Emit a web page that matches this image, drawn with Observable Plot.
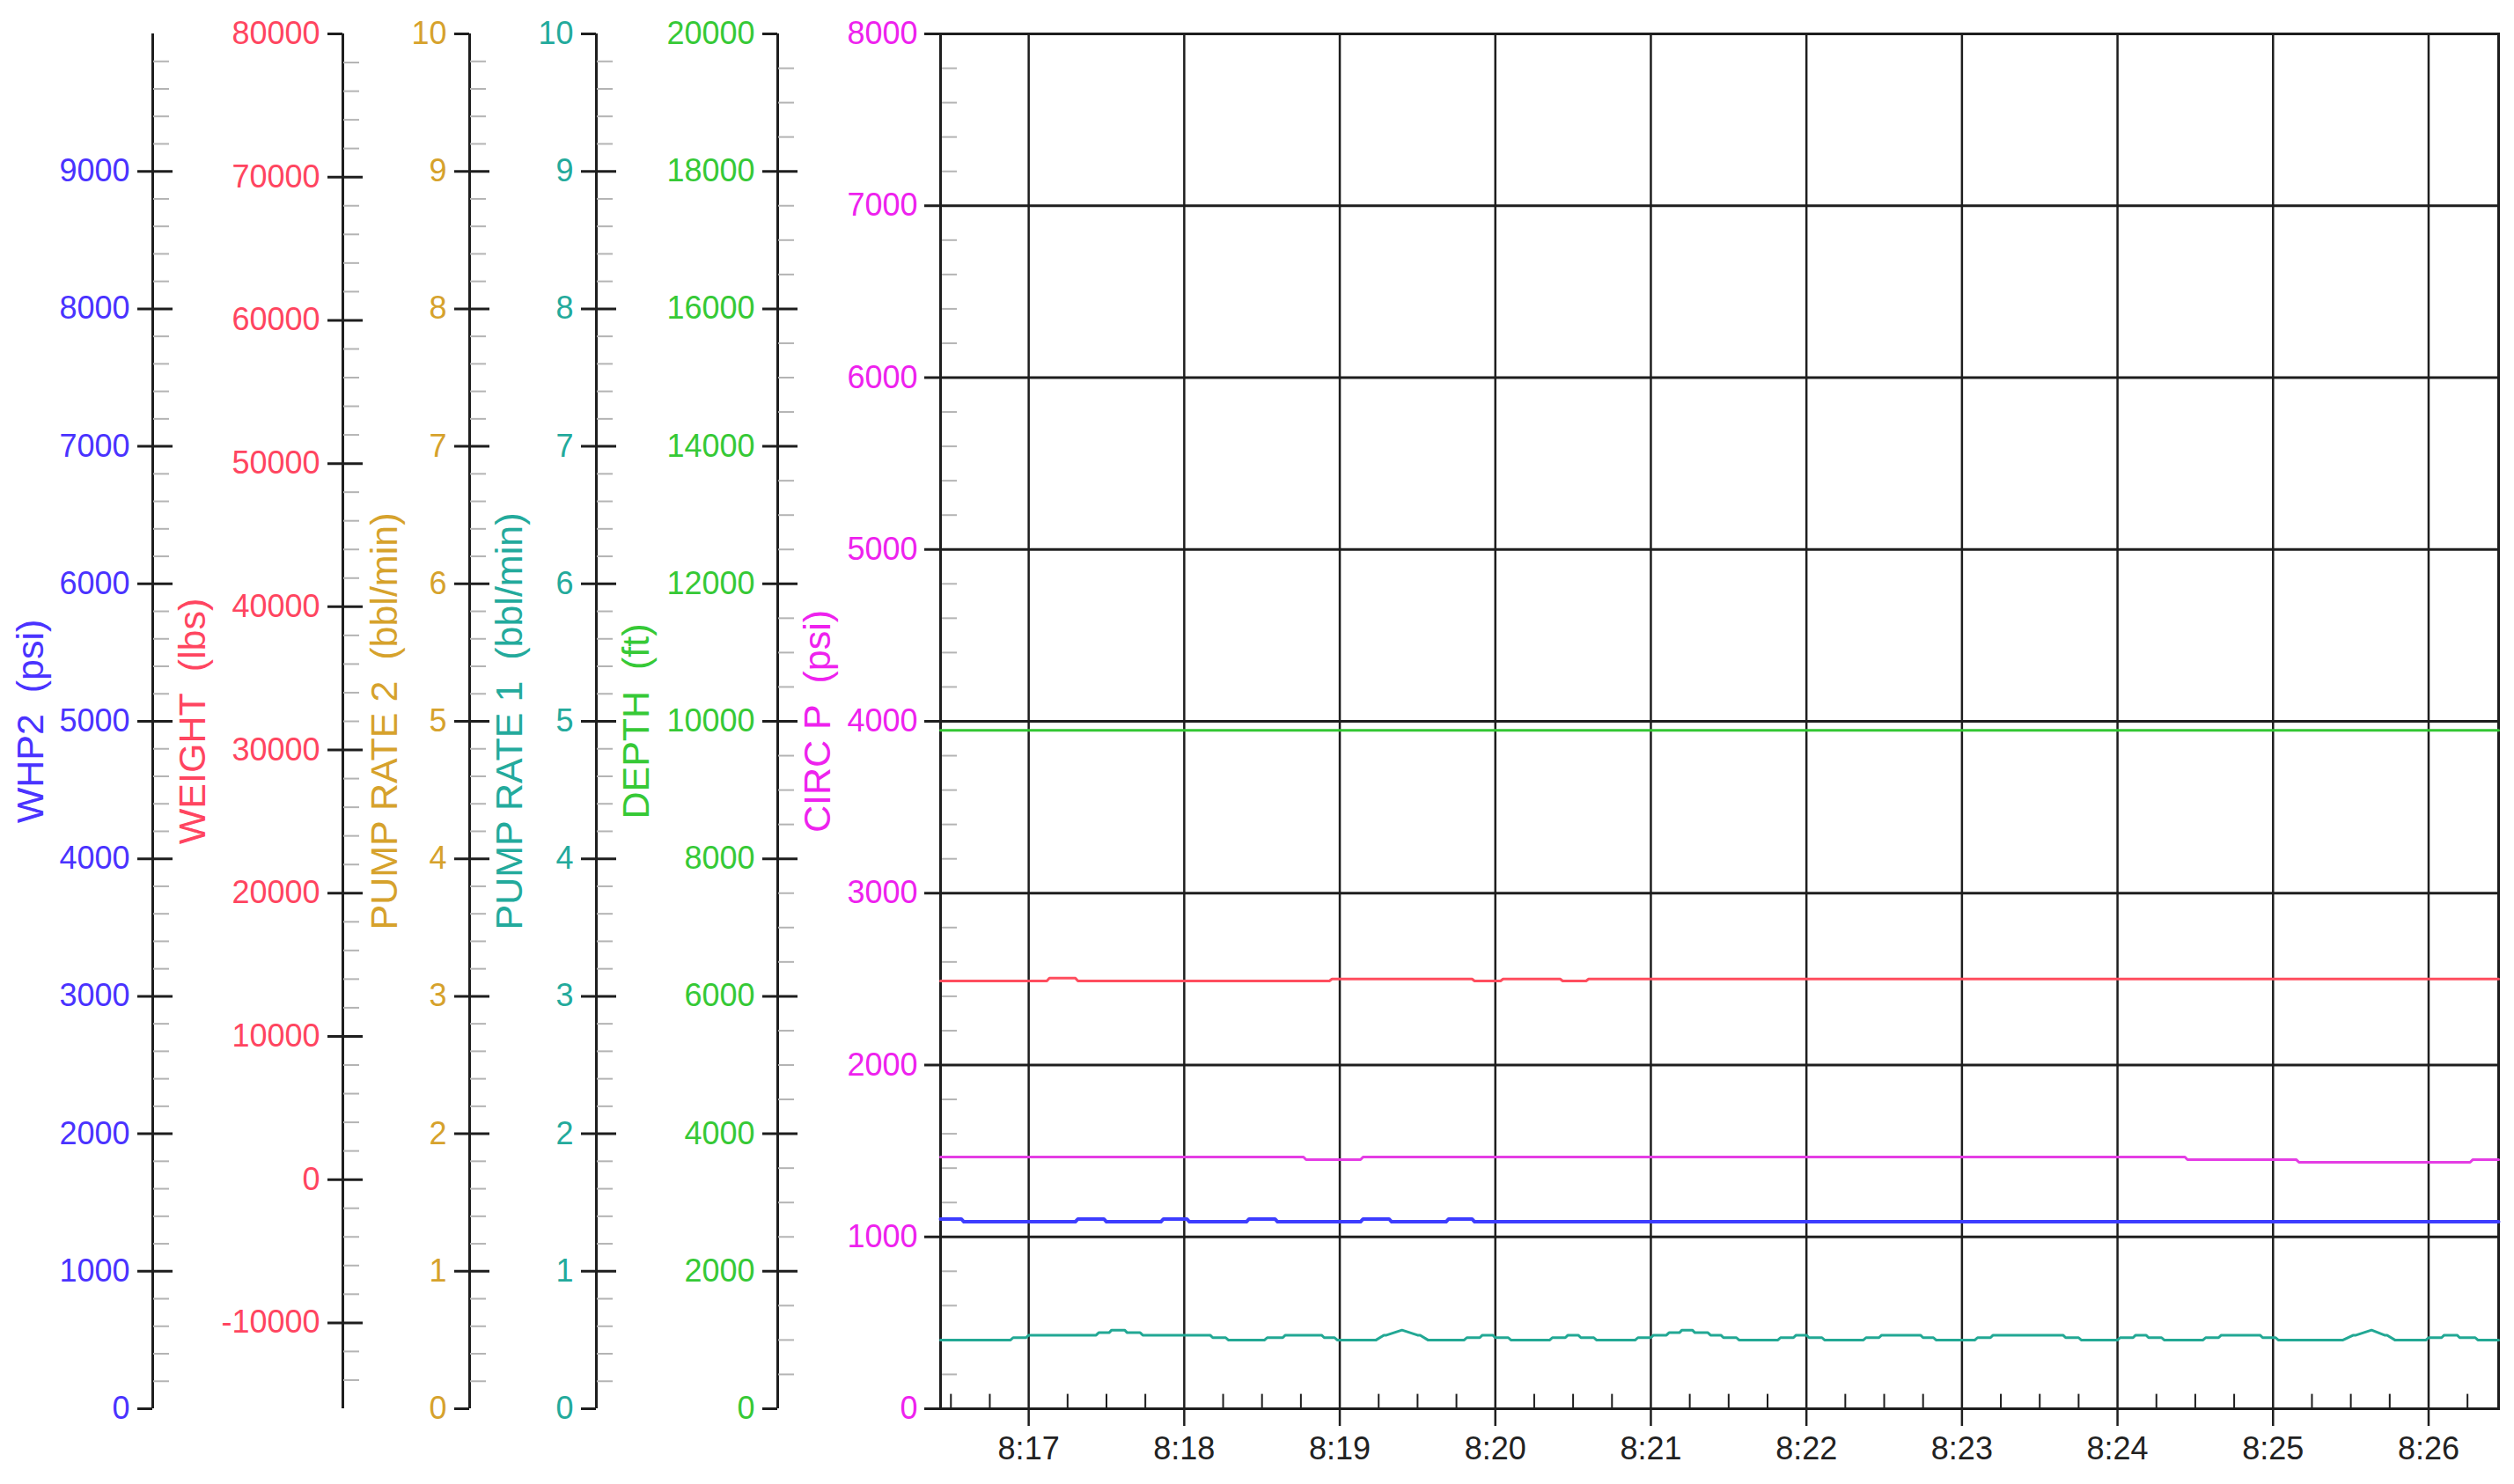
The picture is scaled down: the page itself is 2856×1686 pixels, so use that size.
<!DOCTYPE html>
<html>
<head>
<meta charset="utf-8">
<script src="https://cdn.jsdelivr.net/npm/d3@7"></script>
<script src="https://cdn.jsdelivr.net/npm/@observablehq/plot@0.6"></script>
<style>
  html, body { margin: 0; padding: 0; background: #fff; }
  #chart { position: relative; width: 2856px; height: 1686px; overflow: hidden; background: #fff; }
  #chart svg { position: absolute; left: 0; top: 0; }
</style>
</head>
<body>
<div id="chart"></div>
<script>
// ---------------- DATA ----------------
const startTime = "2021-03-15T08:16:26Z";
const spanSeconds = 601;
const timeTickLabels = ["8:17", "8:18", "8:19", "8:20", "8:21", "8:22", "8:23", "8:24", "8:25", "8:26"];

const whp2Ticks = [0, 1000, 2000, 3000, 4000, 5000, 6000, 7000, 8000, 9000];
const weightTicks = [-10000, 0, 10000, 20000, 30000, 40000, 50000, 60000, 70000, 80000];
const pumpRate2Ticks = [0, 1, 2, 3, 4, 5, 6, 7, 8, 9, 10];
const pumpRate1Ticks = [0, 1, 2, 3, 4, 5, 6, 7, 8, 9, 10];
const depthTicks = [0, 2000, 4000, 6000, 8000, 10000, 12000, 14000, 16000, 18000, 20000];
const circTicks = [0, 1000, 2000, 3000, 4000, 5000, 6000, 7000, 8000];

// series: [startSecond, endSecond, value] plateaus
const depthSeries = [[0, 601, 9870]];
const weightSeries = [
  [0, 41, 13870], [42, 52, 14070], [53, 150, 13870], [151, 205, 14010],
  [206, 216, 13870], [217, 239, 14010], [240, 249, 13870], [250, 601, 14010]
];
const circSeries = [
  [0, 140, 1465], [141, 162, 1449], [163, 480, 1465], [481, 523, 1449],
  [524, 590, 1434], [591, 601, 1449]
];
const whp2Series = [
  [0, 8, 1380], [9, 52, 1360], [53, 63, 1380], [64, 85, 1360], [86, 95, 1380],
  [96, 118, 1360], [119, 129, 1380], [130, 162, 1360], [163, 173, 1380],
  [174, 195, 1360], [196, 205, 1380], [206, 601, 1360]
];
const pumpRate1Series = [
  [0, 27, 0.50], [28, 33, 0.517], [34, 60, 0.535], [61, 65, 0.553], [66, 71, 0.572],
  [72, 77, 0.553], [78, 104, 0.535], [105, 110, 0.517], [111, 125, 0.50], [126, 132, 0.517],
  [133, 147, 0.535], [148, 152, 0.517], [153, 168, 0.50], [171, 172, 0.535], [178, 178, 0.572],
  [184, 185, 0.535], [188, 202, 0.50], [203, 208, 0.517], [209, 213, 0.535], [214, 219, 0.517],
  [220, 235, 0.50], [236, 241, 0.517], [242, 246, 0.535], [247, 252, 0.517], [253, 268, 0.50],
  [269, 274, 0.517], [275, 280, 0.535], [281, 285, 0.553], [286, 290, 0.572], [291, 296, 0.553],
  [297, 301, 0.535], [302, 307, 0.517], [308, 323, 0.50], [324, 329, 0.517], [330, 334, 0.535],
  [335, 340, 0.517], [341, 356, 0.50], [357, 362, 0.517], [363, 378, 0.535], [379, 383, 0.517],
  [384, 399, 0.50], [400, 405, 0.517], [406, 433, 0.535], [434, 439, 0.517], [440, 454, 0.50],
  [455, 460, 0.517], [461, 465, 0.535], [466, 471, 0.517], [472, 487, 0.50], [488, 493, 0.517],
  [494, 509, 0.535], [510, 515, 0.517], [516, 541, 0.50], [545, 546, 0.535], [552, 552, 0.572],
  [557, 558, 0.535], [561, 573, 0.50], [574, 579, 0.517], [580, 585, 0.535], [586, 592, 0.517],
  [593, 601, 0.50]
];

// ---------------- LAYOUT / STYLE ----------------
const W = 2856, H = 1686;
const TOP = 38, BOTTOM = 86;
const PLOT_LEFT = 1068, PLOT_RIGHT = 2838;
const FONT = "'Liberation Sans', Arial, Helvetica, sans-serif";
const TICK_FONT = 36, TITLE_FONT = 43;
const AXIS = "#1e1e1e", MINOR = "#b4b4b4";
const C = {
  whp2: "#4a33ff", weight: "#ff4560", pr2: "#d6a22c", pr1: "#23aa9c", depth: "#36c936", circ: "#ee22ee"
};
const LINE = {
  whp2: "#3d3dff", weight: "#ff4d5e", pr1: "#22a894", depth: "#33c633", circ: "#e43de4"
};

const t0 = new Date(startTime);
const toDate = s => new Date(t0.getTime() + s * 1000);
const xDomain = [t0, toDate(spanSeconds)];
const day = startTime.slice(0, 10);
const minuteDates = timeTickLabels.map(l => {
  const [h, m] = l.split(":").map(Number);
  return new Date(`${day}T${String(h).padStart(2, "0")}:${String(m).padStart(2, "0")}:00Z`);
});
const quarterDates = d3.utcSecond.every(15).range(xDomain[0], xDomain[1])
  .filter(d => d.getUTCSeconds() !== 0);
const fmt = d => String(d);

function vertices(series) {
  const pts = [];
  for (const [s, e, v] of series) {
    pts.push({t: toDate(s), v});
    if (e !== s) pts.push({t: toDate(e), v});
  }
  return pts;
}

function minorValues(domain, step, majors) {
  const [lo, hi] = domain;
  const n = Math.round((hi - lo) / step);
  const out = [];
  for (let i = 1; i < n; i++) {
    const v = +(lo + i * step).toFixed(6);
    if (!majors.some(m => Math.abs(m - v) < step / 10)) out.push(v);
  }
  return out;
}

const chart = document.getElementById("chart");
function add(svg) { chart.appendChild(svg); }

function titleMark(title, dx, color) {
  return Plot.text([title], {frameAnchor: "left", dx, rotate: -90, textAnchor: "middle",
    lineAnchor: "middle", fill: color, fontSize: TITLE_FONT, text: d => d});
}

function sideAxis({x, domain, ticks, minorStep, color, title, titleDx}) {
  const [lo, hi] = domain;
  const caps = ticks.filter(t => t === lo || t === hi);
  const cross = ticks.filter(t => t !== lo && t !== hi);
  const minors = minorValues(domain, minorStep, ticks);
  return Plot.plot({
    width: W, height: H,
    marginTop: TOP, marginBottom: BOTTOM, marginLeft: x, marginRight: 0,
    x: {domain: [0, 1], axis: null},
    y: {domain, axis: null},
    style: {background: "transparent", fontFamily: FONT, fontSize: `${TICK_FONT}px`, overflow: "visible"},
    marks: [
      Plot.ruleX([0], {stroke: AXIS, strokeWidth: 3}),
      Plot.axisY(minors, {tickSize: 18, dx: 19, stroke: MINOR, strokeWidth: 2, tickFormat: () => "", label: null}),
      Plot.axisY(cross, {tickSize: 40, dx: 23, tickPadding: 9, stroke: AXIS, strokeWidth: 3,
        fill: color, fontSize: TICK_FONT, tickFormat: fmt, label: null}),
      Plot.axisY(caps, {tickSize: 17, tickPadding: 9, stroke: AXIS, strokeWidth: 3,
        fill: color, fontSize: TICK_FONT, tickFormat: fmt, label: null}),
      titleMark(title, titleDx, color)
    ]
  });
}

function lineLayer(series, domain, color, width) {
  return Plot.plot({
    width: W, height: H,
    marginTop: TOP, marginBottom: BOTTOM, marginLeft: PLOT_LEFT, marginRight: W - PLOT_RIGHT,
    x: {type: "utc", domain: xDomain, axis: null},
    y: {domain, axis: null},
    style: {background: "transparent", overflow: "visible"},
    marks: [Plot.line(vertices(series), {x: "t", y: "v", stroke: color, strokeWidth: width})]
  });
}

// ---------------- MAIN PLOT (CIRC P scale, time axis, grid) ----------------
const circDomain = [0, 8000];
const circMinors = minorValues(circDomain, 200, circTicks);
add(Plot.plot({
  width: W, height: H,
  marginTop: TOP, marginBottom: BOTTOM, marginLeft: PLOT_LEFT, marginRight: W - PLOT_RIGHT,
  x: {type: "utc", domain: xDomain},
  y: {domain: circDomain},
  style: {background: "#fff", fontFamily: FONT, fontSize: `${TICK_FONT}px`, overflow: "visible"},
  marks: [
    Plot.ruleY(circTicks, {stroke: AXIS, strokeWidth: 3}),
    Plot.ruleX(minuteDates, {stroke: AXIS, strokeWidth: 2.5}),
    Plot.axisY(circMinors, {tickSize: 18, dx: 19, stroke: MINOR, strokeWidth: 2, tickFormat: () => "", label: null}),
    Plot.axisY(circTicks, {tickSize: 18, tickPadding: 8, stroke: AXIS, strokeWidth: 3,
      fill: C.circ, fontSize: TICK_FONT, tickFormat: fmt, label: null}),
    Plot.ruleX(quarterDates, {y1: 0, y2: 84, stroke: AXIS, strokeWidth: 2}),
    Plot.axisX(minuteDates, {tickSize: 20, tickPadding: 12, stroke: AXIS, strokeWidth: 2.5,
      fill: "#222", fontSize: TICK_FONT, tickFormat: d3.utcFormat("%-H:%M"), label: null}),
    Plot.frame({stroke: AXIS, strokeWidth: 3}),
    titleMark("CIRC P\u00a0\u00a0(psi)", -139, C.circ)
  ]
}));

// ---------------- SIDE AXES ----------------
add(sideAxis({x: 173, domain: [0, 10000], ticks: whp2Ticks, minorStep: 200, color: C.whp2,
  title: "WHP2\u00a0\u00a0(psi)", titleDx: -138}));
add(sideAxis({x: 389, domain: [-16000, 80000], ticks: weightTicks, minorStep: 2000, color: C.weight,
  title: "WEIGHT\u00a0\u00a0(lbs)", titleDx: -170}));
add(sideAxis({x: 533, domain: [0, 10], ticks: pumpRate2Ticks, minorStep: 0.2, color: C.pr2,
  title: "PUMP RATE 2\u00a0\u00a0(bbl/min)", titleDx: -96}));
add(sideAxis({x: 677, domain: [0, 10], ticks: pumpRate1Ticks, minorStep: 0.2, color: C.pr1,
  title: "PUMP RATE 1\u00a0\u00a0(bbl/min)", titleDx: -98}));
add(sideAxis({x: 883, domain: [0, 20000], ticks: depthTicks, minorStep: 500, color: C.depth,
  title: "DEPTH\u00a0\u00a0(ft)", titleDx: -160}));

// ---------------- DATA LINES ----------------
add(lineLayer(depthSeries, [0, 20000], LINE.depth, 3));
add(lineLayer(weightSeries, [-16000, 80000], LINE.weight, 3));
add(lineLayer(circSeries, circDomain, LINE.circ, 3));
add(lineLayer(whp2Series, [0, 10000], LINE.whp2, 4));
add(lineLayer(pumpRate1Series, [0, 10], LINE.pr1, 3));
</script>
</body>
</html>
